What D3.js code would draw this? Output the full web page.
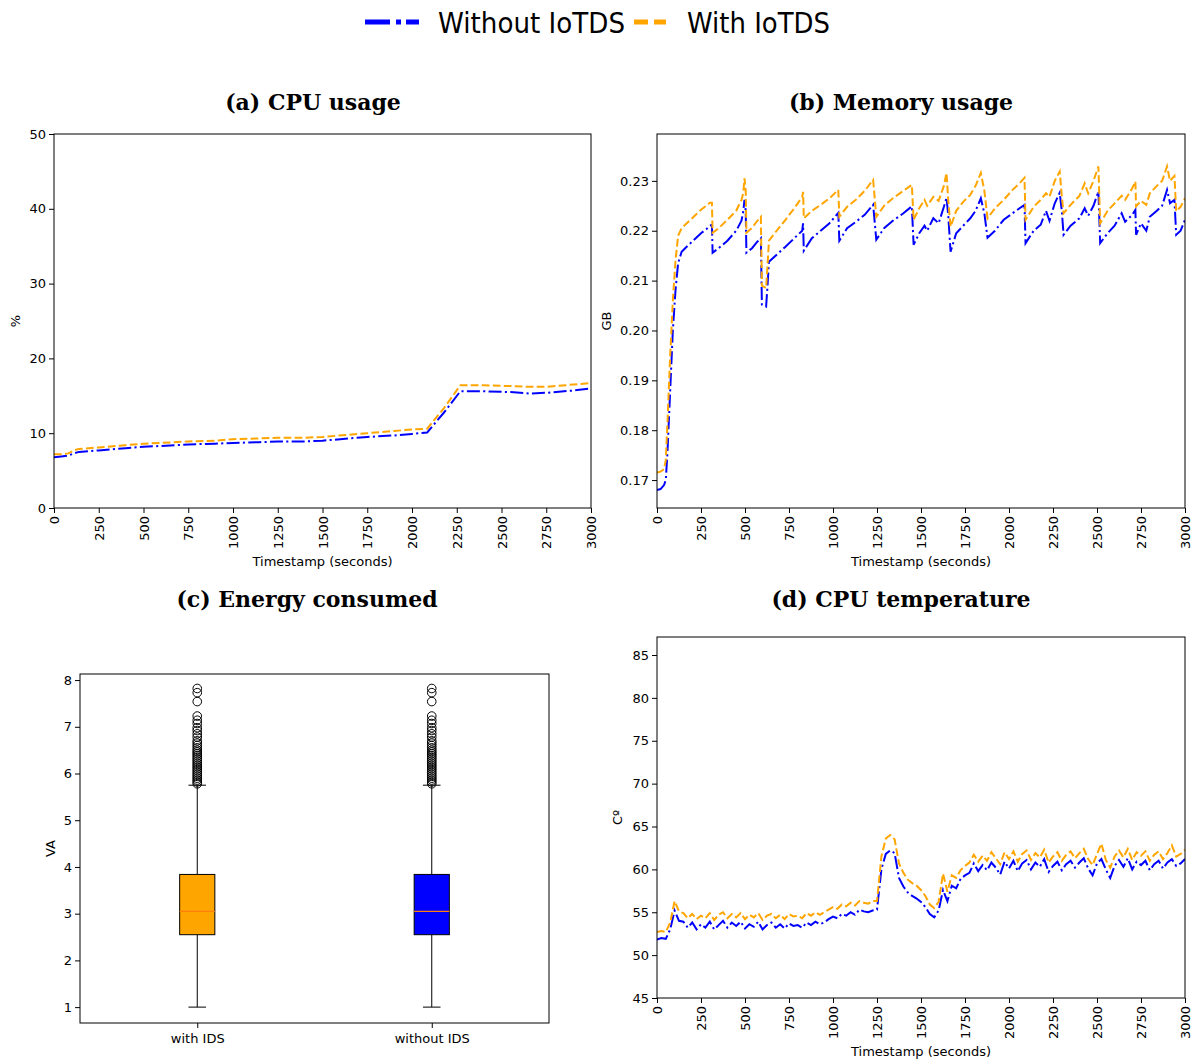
<!DOCTYPE html>
<html>
<head>
<meta charset="utf-8">
<script src="https://cdn.jsdelivr.net/npm/d3@7"></script>
<style>
  body { margin: 0; background: #fff; }
  text { font-family: "DejaVu Sans", sans-serif; fill: #000; }
  .titulo { font-family: "DejaVu Serif", serif; font-weight: bold; font-size: 22px; }
  .tick text { font-size: 13px; }
  .etiqueta { font-size: 13px; }
</style>
</head>
<body>
<div id="figura"></div>
<script>
// ---- datos ----
var ejeTiempo = [0, 250, 500, 750, 1000, 1250, 1500, 1750, 2000, 2250, 2500, 2750, 3000];

// (a) uso de CPU (%)
var cpuT       = [0, 40, 80, 110, 140, 250, 400, 500, 600, 750, 900, 1000, 1150, 1250, 1400, 1500, 1650, 1750, 1900, 2000, 2085, 2180, 2270, 2400, 2550, 2660, 2750, 2900, 3000];
var cpuSin     = [6.8, 6.9, 7.0, 7.3, 7.5, 7.7, 8.0, 8.2, 8.3, 8.5, 8.6, 8.7, 8.8, 8.9, 8.9, 9.0, 9.3, 9.5, 9.7, 9.9, 10.1, 12.8, 15.6, 15.6, 15.5, 15.3, 15.4, 15.7, 16.0];
var cpuCon     = [7.2, 7.2, 7.3, 7.7, 7.9, 8.1, 8.4, 8.6, 8.7, 8.9, 9.0, 9.2, 9.3, 9.4, 9.4, 9.5, 9.8, 10.0, 10.3, 10.5, 10.6, 13.4, 16.4, 16.4, 16.3, 16.2, 16.2, 16.5, 16.7];

// (b) uso de memoria (GB)
var memT   = [0, 20, 40, 50, 60, 75, 90, 105, 120, 140, 160, 190, 220, 250, 280, 300, 312, 316, 350, 400, 450, 480, 490, 497, 504, 508, 540, 570, 590, 596, 620, 628, 636, 680, 730, 780, 825, 830, 834, 880, 930, 980, 1030, 1036, 1080, 1130, 1180, 1228, 1246, 1290, 1340, 1400, 1448, 1458, 1490, 1520, 1535, 1570, 1600, 1630, 1645, 1655, 1668, 1700, 1740, 1780, 1810, 1840, 1860, 1878, 1920, 1970, 2020, 2060, 2088, 2094, 2140, 2180, 2210, 2230, 2260, 2288, 2300, 2310, 2350, 2400, 2430, 2450, 2480, 2508, 2518, 2560, 2600, 2640, 2660, 2700, 2718, 2722, 2750, 2780, 2800, 2840, 2870, 2898, 2915, 2940, 2950, 2975, 3000];
var memSin = [0.1680, 0.1682, 0.1690, 0.1700, 0.1760, 0.1880, 0.2000, 0.2080, 0.2135, 0.2158, 0.2165, 0.2175, 0.2185, 0.2195, 0.2203, 0.2210, 0.2212, 0.2156, 0.2165, 0.2180, 0.2200, 0.2220, 0.2238, 0.2262, 0.2240, 0.2156, 0.2165, 0.2178, 0.2185, 0.2052, 0.2048, 0.2090, 0.2138, 0.2152, 0.2168, 0.2185, 0.2200, 0.2215, 0.2160, 0.2185, 0.2200, 0.2215, 0.2236, 0.2180, 0.2205, 0.2218, 0.2232, 0.2252, 0.2182, 0.2205, 0.2220, 0.2235, 0.2249, 0.2172, 0.2195, 0.2210, 0.2200, 0.2225, 0.2215, 0.2248, 0.2266, 0.2230, 0.2158, 0.2195, 0.2210, 0.2225, 0.2240, 0.2265, 0.2235, 0.2186, 0.2200, 0.2222, 0.2235, 0.2245, 0.2252, 0.2175, 0.2200, 0.2212, 0.2240, 0.2220, 0.2255, 0.2276, 0.2240, 0.2192, 0.2210, 0.2225, 0.2245, 0.2230, 0.2250, 0.2279, 0.2175, 0.2195, 0.2210, 0.2235, 0.2218, 0.2232, 0.2242, 0.2192, 0.2215, 0.2200, 0.2228, 0.2240, 0.2250, 0.2282, 0.2255, 0.2262, 0.2192, 0.2200, 0.2222];
var memCon = [0.1715, 0.1717, 0.1722, 0.1740, 0.1820, 0.1950, 0.2060, 0.2140, 0.2190, 0.2205, 0.2212, 0.2222, 0.2232, 0.2242, 0.2250, 0.2256, 0.2256, 0.2196, 0.2205, 0.2222, 0.2240, 0.2262, 0.2275, 0.2305, 0.2280, 0.2196, 0.2206, 0.2220, 0.2228, 0.2090, 0.2085, 0.2130, 0.2180, 0.2200, 0.2222, 0.2245, 0.2268, 0.2278, 0.2225, 0.2240, 0.2252, 0.2265, 0.2282, 0.2228, 0.2248, 0.2262, 0.2280, 0.2302, 0.2228, 0.2250, 0.2265, 0.2280, 0.2292, 0.2222, 0.2245, 0.2262, 0.2250, 0.2268, 0.2260, 0.2290, 0.2316, 0.2260, 0.2208, 0.2240, 0.2258, 0.2272, 0.2290, 0.2316, 0.2280, 0.2225, 0.2245, 0.2262, 0.2282, 0.2295, 0.2306, 0.2222, 0.2248, 0.2262, 0.2275, 0.2268, 0.2300, 0.2319, 0.2270, 0.2235, 0.2252, 0.2270, 0.2295, 0.2275, 0.2300, 0.2329, 0.2215, 0.2240, 0.2255, 0.2270, 0.2262, 0.2285, 0.2299, 0.2249, 0.2260, 0.2252, 0.2275, 0.2290, 0.2300, 0.2329, 0.2300, 0.2310, 0.2239, 0.2248, 0.2265];

// (c) energia consumida (VA): resumen de las cajas
var cajaNombres  = ["with IDS", "without IDS"];
var cajaColores  = ["orange", "blue"];
var cajaMin      = [1.00, 1.00];
var cajaQ1       = [2.55, 2.55];
var cajaMediana  = [3.05, 3.05];
var cajaQ3       = [3.84, 3.84];
var cajaMax      = [5.75, 5.75];
var atipicos     = [5.78, 5.82, 5.86, 5.90, 5.94, 5.98, 6.02, 6.06, 6.10, 6.14, 6.18, 6.22, 6.26, 6.30, 6.34, 6.38, 6.42, 6.46, 6.50, 6.55, 6.60, 6.65, 6.70, 6.78, 6.85, 6.92, 6.98, 7.07, 7.14, 7.23, 7.54, 7.73, 7.82];

// (d) temperatura de CPU (C)
var tempT   = [0, 25, 50, 75, 100, 125, 150, 175, 200, 225, 250, 275, 300, 325, 350, 375, 400, 425, 450, 475, 500, 525, 550, 575, 600, 625, 650, 675, 700, 725, 750, 775, 800, 825, 850, 875, 900, 925, 950, 975, 1000, 1025, 1050, 1075, 1100, 1125, 1150, 1175, 1200, 1225, 1250, 1275, 1300, 1325, 1350, 1375, 1400, 1425, 1450, 1475, 1500, 1525, 1550, 1575, 1600, 1625, 1650, 1675, 1700, 1725, 1750, 1775, 1800, 1825, 1850, 1875, 1900, 1925, 1950, 1975, 2000, 2025, 2050, 2075, 2100, 2125, 2150, 2175, 2200, 2225, 2250, 2275, 2300, 2325, 2350, 2375, 2400, 2425, 2450, 2475, 2500, 2525, 2550, 2575, 2600, 2625, 2650, 2675, 2700, 2725, 2750, 2775, 2800, 2825, 2850, 2875, 2900, 2925, 2950, 2975, 3000];
var tempSin = [51.8, 52.0, 51.9, 53.0, 55.2, 54.0, 53.9, 53.2, 53.8, 53.0, 53.6, 53.2, 53.9, 53.0, 53.5, 54.0, 53.2, 53.8, 53.4, 53.9, 53.1, 53.6, 53.3, 53.9, 53.0, 53.5, 53.8, 53.2, 53.6, 53.1, 53.7, 53.4, 53.5, 53.2, 53.8, 53.5, 53.9, 53.6, 53.8, 54.2, 54.5, 54.3, 54.8, 54.6, 55.0, 54.7, 55.3, 55.1, 55.0, 55.2, 55.3, 60.0, 61.8, 62.2, 61.9, 59.0, 58.0, 57.3, 56.9, 56.6, 56.2, 55.6, 54.8, 54.4, 55.2, 57.6, 56.3, 58.1, 57.8, 58.9, 59.3, 59.6, 60.7, 59.8, 60.5, 59.9, 60.8, 60.2, 59.4, 60.9, 60.1, 61.0, 59.8, 60.7, 61.1, 60.0, 60.8, 60.3, 61.2, 59.7, 60.4, 60.9, 59.9, 60.6, 61.0, 60.2, 60.8, 61.3, 60.1, 59.3, 60.7, 61.2, 60.0, 59.0, 60.4, 61.1, 60.3, 61.3, 60.0, 60.9, 60.5, 61.0, 59.9, 60.6, 61.0, 60.1, 60.8, 61.2, 60.4, 60.7, 61.2];
var tempCon = [52.7, 52.8, 52.7, 53.8, 56.3, 55.1, 54.9, 54.3, 54.8, 54.2, 54.6, 54.3, 54.9, 54.1, 54.7, 55.0, 54.3, 54.8, 54.4, 54.9, 54.2, 54.7, 54.4, 54.9, 54.1, 54.6, 54.8, 54.3, 54.7, 54.2, 54.8, 54.5, 54.6, 54.3, 54.9, 54.6, 55.0, 54.7, 55.0, 55.3, 55.6, 55.4, 55.9, 55.7, 56.1, 55.8, 56.3, 56.1, 56.0, 56.3, 56.3, 61.5, 63.6, 64.0, 63.5, 60.7, 59.6, 58.8, 58.4, 58.1, 57.6, 56.9, 55.9, 55.5, 56.2, 59.5, 57.4, 59.3, 59.0, 59.9, 60.4, 60.8, 61.7, 60.9, 61.6, 61.0, 62.0, 61.3, 60.6, 62.0, 61.2, 62.1, 60.9, 61.8, 62.2, 61.1, 61.9, 61.4, 62.3, 60.8, 61.5, 62.0, 61.0, 61.7, 62.1, 61.3, 61.9, 62.4, 61.2, 60.5, 61.8, 63.0, 61.1, 60.2, 61.5, 62.2, 61.4, 62.4, 61.1, 62.0, 61.6, 62.1, 61.0, 61.7, 62.1, 61.2, 61.9, 62.8, 61.5, 61.8, 62.3];

// ---- lienzo ----
var ancho = 1199, altura = 1061;
var svg = d3.select("#figura").append("svg")
    .attr("width", ancho)
    .attr("height", altura);

// estilos de linea (como matplotlib '-.' y '--')
var estiloSin = { color: "blue", dash: "13,3.3,2.1,3.3" };
var estiloCon = { color: "orange", dash: "7.7,3.3" };

// Leyenda superior
var leyenda = svg.append("g");
leyenda.append("line").attr("x1", 365).attr("x2", 419).attr("y1", 22).attr("y2", 22)
    .attr("stroke", "blue").attr("stroke-width", 5).attr("stroke-dasharray", "25,6,5,5");
leyenda.append("text").attr("x", 438).attr("y", 33).attr("font-size", 29)
    .attr("textLength", 187).attr("lengthAdjust", "spacingAndGlyphs").text("Without IoTDS");
leyenda.append("line").attr("x1", 634).attr("x2", 666).attr("y1", 22).attr("y2", 22)
    .attr("stroke", "orange").attr("stroke-width", 5).attr("stroke-dasharray", "14,6");
leyenda.append("text").attr("x", 687).attr("y", 33).attr("font-size", 29)
    .attr("textLength", 143).attr("lengthAdjust", "spacingAndGlyphs").text("With IoTDS");

// Funcion para dibujar un panel de lineas (tiempo vs valor).
function dibujarPanel(p) {
    var g = svg.append("g").attr("transform", "translate(" + p.x0 + "," + p.y0 + ")");
    var w = p.x1 - p.x0, h = p.y1 - p.y0;

    var x = d3.scaleLinear().domain([0, 3000]).range([0, w]);
    var y = d3.scaleLinear().domain(p.dominio).range([h, 0]);

    // ejes
    var ejeX = g.append("g").attr("transform", "translate(0," + h + ")")
        .call(d3.axisBottom(x).tickValues(ejeTiempo).tickSize(5).tickPadding(3).tickFormat(d3.format("d")));
    ejeX.selectAll(".tick text")
        .attr("transform", "rotate(-90)")
        .attr("x", -8).attr("y", 0).attr("dy", "0.35em")
        .style("text-anchor", "end");

    g.append("g")
        .call(d3.axisLeft(y).tickValues(p.ticks).tickSize(5).tickPadding(3).tickFormat(p.formato));
    g.selectAll(".domain").remove();

    // recorte para las lineas
    var idClip = "clip" + p.id;
    g.append("clipPath").attr("id", idClip).append("rect").attr("width", w).attr("height", h);

    var linea = d3.line()
        .x(function (d) { return x(d[0]); })
        .y(function (d) { return y(d[1]); });

    [[p.sin, estiloSin], [p.con, estiloCon]].forEach(function (s) {
        var puntos = p.t.map(function (t, i) { return [t, s[0][i]]; });
        g.append("path")
            .attr("clip-path", "url(#" + idClip + ")")
            .attr("d", linea(puntos))
            .attr("fill", "none")
            .attr("stroke", s[1].color)
            .attr("stroke-width", 2)
            .attr("stroke-dasharray", s[1].dash);
    });

    // marco
    g.append("rect").attr("width", w).attr("height", h)
        .attr("fill", "none").attr("stroke", "#000").attr("stroke-width", 1);

    // textos
    svg.append("text").attr("class", "titulo")
        .attr("x", p.xTitulo).attr("y", p.yTitulo)
        .attr("text-anchor", "middle").text(p.titulo);
    svg.append("text").attr("class", "etiqueta")
        .attr("x", (p.x0 + p.x1) / 2).attr("y", p.y1 + 58)
        .attr("text-anchor", "middle").text("Timestamp (seconds)");
    svg.append("text").attr("class", "etiqueta")
        .attr("transform", "translate(" + p.xEtiqueta + "," + ((p.y0 + p.y1) / 2) + ") rotate(-90)")
        .attr("text-anchor", "middle").text(p.etiquetaY);
}

dibujarPanel({
    id: "a", x0: 54, x1: 591, y0: 134, y1: 508,
    dominio: [0, 50], ticks: [0, 10, 20, 30, 40, 50], formato: d3.format("d"),
    t: cpuT, sin: cpuSin, con: cpuCon,
    titulo: "(a) CPU usage", xTitulo: 313, yTitulo: 110, etiquetaY: "%", xEtiqueta: 20
});

dibujarPanel({
    id: "b", x0: 657, x1: 1185, y0: 134, y1: 508,
    dominio: [0.1644, 0.2394], ticks: [0.17, 0.18, 0.19, 0.20, 0.21, 0.22, 0.23], formato: d3.format(".2f"),
    t: memT, sin: memSin, con: memCon,
    titulo: "(b) Memory usage", xTitulo: 901, yTitulo: 110, etiquetaY: "GB", xEtiqueta: 611
});

dibujarPanel({
    id: "d", x0: 657, x1: 1185, y0: 637, y1: 998,
    dominio: [45, 87.1], ticks: [45, 50, 55, 60, 65, 70, 75, 80, 85], formato: d3.format("d"),
    t: tempT, sin: tempSin, con: tempCon,
    titulo: "(d) CPU temperature", xTitulo: 901, yTitulo: 607, etiquetaY: "Cº", xEtiqueta: 622
});

// Panel (c): diagrama de cajas
(function () {
    var x0 = 80, x1 = 549, y0 = 674, y1 = 1023;
    var w = x1 - x0, h = y1 - y0;
    var g = svg.append("g").attr("transform", "translate(" + x0 + "," + y0 + ")");

    var x = d3.scalePoint().domain(cajaNombres).range([0, w]).padding(0.5);
    var y = d3.scaleLinear().domain([0.66, 8.13]).range([h, 0]);
    var anchoCaja = x.step() * 0.15;

    g.append("g").attr("transform", "translate(0," + h + ")")
        .call(d3.axisBottom(x).tickSize(5).tickPadding(6));
    g.append("g")
        .call(d3.axisLeft(y).tickValues([1, 2, 3, 4, 5, 6, 7, 8]).tickSize(5).tickPadding(3).tickFormat(d3.format("d")));
    g.selectAll(".domain").remove();

    cajaNombres.forEach(function (nombre, i) {
        var cx = x(nombre);
        // bigotes
        g.append("line").attr("x1", cx).attr("x2", cx).attr("y1", y(cajaMin[i])).attr("y2", y(cajaQ1[i]))
            .attr("stroke", "#000");
        g.append("line").attr("x1", cx).attr("x2", cx).attr("y1", y(cajaQ3[i])).attr("y2", y(cajaMax[i]))
            .attr("stroke", "#000");
        [cajaMin[i], cajaMax[i]].forEach(function (v) {
            g.append("line").attr("x1", cx - anchoCaja / 4).attr("x2", cx + anchoCaja / 4)
                .attr("y1", y(v)).attr("y2", y(v)).attr("stroke", "#000");
        });
        // caja
        g.append("rect")
            .attr("x", cx - anchoCaja / 2).attr("y", y(cajaQ3[i]))
            .attr("width", anchoCaja).attr("height", y(cajaQ1[i]) - y(cajaQ3[i]))
            .attr("fill", cajaColores[i]).attr("stroke", "#000").attr("stroke-width", 1);
        g.append("line").attr("x1", cx - anchoCaja / 2).attr("x2", cx + anchoCaja / 2)
            .attr("y1", y(cajaMediana[i])).attr("y2", y(cajaMediana[i]))
            .attr("stroke", "#ff7f0e").attr("stroke-width", 1.2);
        // valores atipicos
        g.selectAll(".atipico" + i)
            .data(atipicos)
            .enter().append("circle")
            .attr("cx", cx).attr("cy", function (d) { return y(d); })
            .attr("r", 4.3)
            .attr("fill", "none").attr("stroke", "#000").attr("stroke-width", 1);
    });

    g.append("rect").attr("width", w).attr("height", h)
        .attr("fill", "none").attr("stroke", "#000").attr("stroke-width", 1);

    svg.append("text").attr("class", "titulo")
        .attr("x", 307).attr("y", 607).attr("text-anchor", "middle").text("(c) Energy consumed");
    svg.append("text").attr("class", "etiqueta")
        .attr("transform", "translate(55," + ((y0 + y1) / 2) + ") rotate(-90)")
        .attr("text-anchor", "middle").text("VA");
})();
</script>
</body>
</html>
